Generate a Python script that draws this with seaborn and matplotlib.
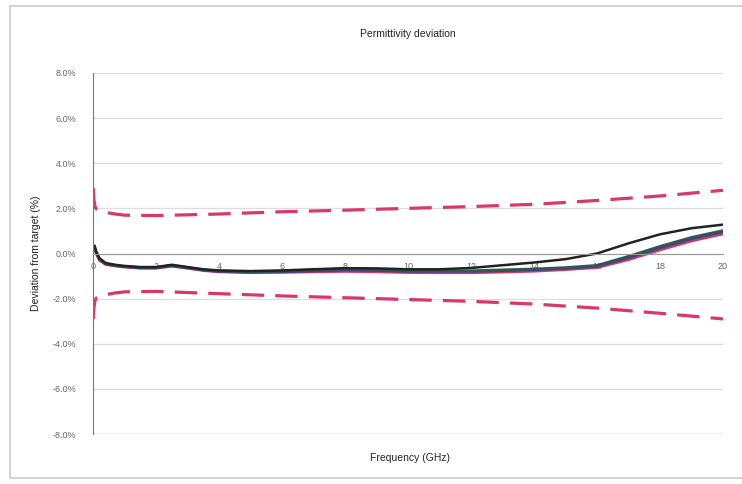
import numpy as np
import pandas as pd
import matplotlib
matplotlib.use("Agg")
import matplotlib.pyplot as plt
from matplotlib.patches import Rectangle
from matplotlib.ticker import FuncFormatter
import seaborn as sns

sns.set_style("white")
plt.rcParams['font.family'] = ['Liberation Sans', 'DejaVu Sans']

# frequency points (GHz)
freq = [0.05, 0.1, 0.2, 0.4, 0.7, 1, 1.5, 2, 2.5, 3, 3.5, 4, 5, 6, 7, 8,
        9, 10, 11, 12, 13, 14, 15, 16, 17, 18, 19, 20]

black = [0.35, 0.1, -0.2, -0.42, -0.5, -0.55, -0.6, -0.6, -0.5, -0.6, -0.7, -0.75,
         -0.78, -0.75, -0.7, -0.65, -0.66, -0.7, -0.7, -0.64, -0.52, -0.4, -0.25,
         0.0, 0.45, 0.85, 1.12, 1.28]
teal = [0.3, 0.05, -0.25, -0.45, -0.52, -0.57, -0.62, -0.62, -0.52, -0.62, -0.72, -0.77,
        -0.8, -0.78, -0.72, -0.68, -0.7, -0.74, -0.76, -0.76, -0.72, -0.68, -0.62,
        -0.52, -0.12, 0.32, 0.72, 1.02]
purple = [0.28, 0.02, -0.27, -0.47, -0.54, -0.59, -0.64, -0.64, -0.55, -0.64, -0.74, -0.8,
          -0.84, -0.82, -0.78, -0.74, -0.76, -0.8, -0.8, -0.8, -0.77, -0.73, -0.67,
          -0.58, -0.2, 0.24, 0.64, 0.95]
pink = [0.25, 0.0, -0.3, -0.49, -0.56, -0.61, -0.66, -0.66, -0.57, -0.66, -0.76, -0.82,
        -0.85, -0.84, -0.82, -0.8, -0.82, -0.85, -0.86, -0.86, -0.83, -0.79, -0.72,
        -0.63, -0.28, 0.15, 0.55, 0.86]

lim_freq = [0.01, 0.03, 0.06, 0.1, 0.3, 0.7, 1, 2, 4, 6, 8, 10, 12, 14, 16, 18, 20]
upper = [2.9, 2.4, 2.1, 1.98, 1.85, 1.75, 1.7, 1.68, 1.75, 1.85, 1.92, 2.0, 2.08,
         2.18, 2.35, 2.55, 2.8]
lower = [-2.9, -2.4, -2.1, -1.98, -1.85, -1.75, -1.7, -1.68, -1.78, -1.88, -1.96, -2.04,
         -2.12, -2.24, -2.42, -2.65, -2.9]

x_ticks = list(range(0, 21, 2))
y_ticks = list(range(-8, 9, 2))

fig = plt.figure(figsize=(7.42, 4.84), dpi=100)
ax = fig.add_axes([93/742, 1-434/484, (723-93)/742, (434-73)/484])

red = "#d8386a"
for lim in (upper, lower):
    sns.lineplot(x=lim_freq, y=lim, ax=ax, color=red, lw=2.3, sort=False,
                 dashes=False, estimator=None)
for line in ax.lines:
    line.set_dashes([7, 3.5])
    line.set_dash_capstyle("butt")

series = [(pink, "#d03a6a"), (purple, "#4a3f86"), (teal, "#2d5a50"), (black, "#222222")]
for vals, c in series:
    sns.lineplot(x=freq, y=vals, ax=ax, color=c, lw=1.8, estimator=None, sort=False)

ax.set_xlim(0, 20)
ax.set_ylim(-8, 8)
ax.set_xticks(x_ticks)
ax.set_yticks(y_ticks)
ax.yaxis.set_major_formatter(FuncFormatter(lambda v, p: f"{v:.1f}%"))
ax.grid(axis="y", color="#dddddd", lw=0.9)
ax.set_axisbelow(True)

for s in ("top", "right"):
    ax.spines[s].set_visible(False)
ax.spines["bottom"].set_position(("data", 0))
ax.spines["bottom"].set_color("#999999")
ax.spines["bottom"].set_linewidth(0.8)
ax.spines["left"].set_color("#777777")
ax.spines["left"].set_linewidth(0.8)
ax.axhline(-8, color="#aaaaaa", lw=0.9)

ax.tick_params(axis="x", length=3, direction="out", color="#999999",
               labelsize=6.5, labelcolor="#666666", pad=3)
ax.tick_params(axis="y", length=0, labelsize=6.5, labelcolor="#666666", pad=12)

ax.set_title("Permittivity deviation", fontsize=7.5, color="#222222", pad=26)
ax.set_ylabel("Deviation from target (%)", fontsize=7.5, color="#222222", labelpad=8)
fig.text(410/742, 1-458/484, "Frequency (GHz)", fontsize=7.5, color="#222222",
         ha="center", va="center")

fig.patches.append(Rectangle((10/742, 6/484), 1.2, 472/484, transform=fig.transFigure,
                             fill=False, ec="#cccccc", lw=1.2, figure=fig))

fig.savefig("out.png", dpi=100)
